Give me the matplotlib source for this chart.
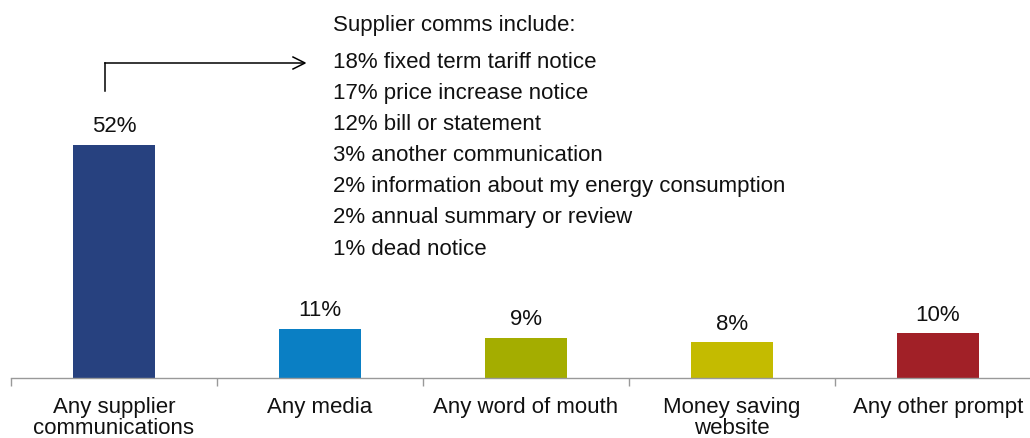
import matplotlib.pyplot as plt
from matplotlib.lines import Line2D

plt.rcParams['font.family'] = ['Liberation Sans', 'DejaVu Sans']

categories = ["Any supplier\ncommunications", "Any media", "Any word of mouth",
              "Money saving\nwebsite", "Any other prompt"]
values = [52, 11, 9, 8, 10]
colors = ["#27417f", "#0a7fc4", "#a4ad00", "#c4bb00", "#a12027"]

comms_heading = "Supplier comms include:"
comms_values = [18, 17, 12, 3, 2, 2, 1]
comms_labels = ["fixed term tariff notice", "price increase notice", "bill or statement",
                "another communication", "information about my energy consumption",
                "annual summary or review", "dead notice"]

W, H = 1030, 439
FS = 16
fig = plt.figure(figsize=(W / 100, H / 100), dpi=100)

# axes run slightly past the right edge, so the last boundary tick is cut off
ax_left, ax_right = 11, 1041
base_y, unit_px = 379, 233 / 52
ymax = 60
ax = fig.add_axes([ax_left / W, (H - base_y) / H, (ax_right - ax_left) / W, ymax * unit_px / H])

x = range(len(categories))
bars = ax.bar(x, values, width=0.4, color=colors)
for b, v in zip(bars, values):
    ax.text(b.get_x() + b.get_width() / 2, v + 1.9, f"{v}%", ha="center", va="bottom",
            fontsize=FS, color="#111111")

ax.set_xlim(-0.5, len(categories) - 0.5)
ax.set_ylim(0, ymax)
for s in ["top", "right", "left"]:
    ax.spines[s].set_visible(False)
ax.spines["bottom"].set_color("#999999")
ax.spines["bottom"].set_linewidth(1)
ax.set_yticks([])
ax.set_xticks(list(x))
ax.set_xticklabels(categories, fontsize=FS, color="#111111", linespacing=1.0)
ax.tick_params(axis="x", which="major", length=0, pad=13)
ax.set_xticks([i - 0.5 for i in range(len(categories) + 1)], minor=True)
ax.tick_params(axis="x", which="minor", length=6, color="#999999", width=1)

# breakdown of supplier communications
def fy(py):
    return (H - py) / H

fig.text(333 / W, fy(25), comms_heading, fontsize=FS, va="center", ha="left", color="#111111")
for i, (v, lab) in enumerate(zip(comms_values, comms_labels)):
    fig.text(333 / W, fy(62 + i * 31.2), f"{v}% {lab}", fontsize=FS, va="center", ha="left",
             color="#111111")

# elbow arrow from the first bar to the list
fig.add_artist(Line2D([105 / W, 105 / W], [fy(92), fy(64)], color="black", lw=1.1,
                      transform=fig.transFigure))
fig.add_artist(Line2D([105 / W, 304 / W], [fy(64), fy(64)], color="black", lw=1.1,
                      transform=fig.transFigure))
fig.add_artist(Line2D([293 / W, 305 / W, 293 / W], [fy(58), fy(64), fy(70)], color="black",
                      lw=1.1, transform=fig.transFigure))

fig.savefig("out.png", dpi=100)
